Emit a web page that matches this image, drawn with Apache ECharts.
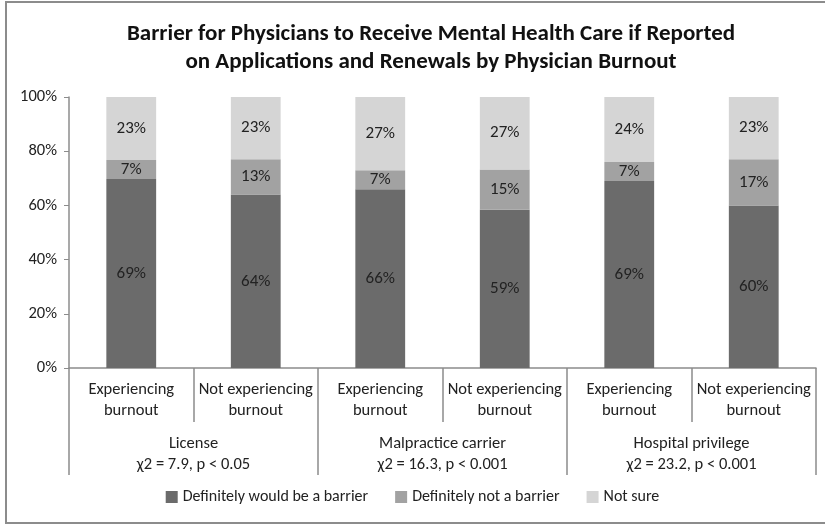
<!DOCTYPE html>
<html>
<head>
<meta charset="utf-8">
<script src="https://cdn.jsdelivr.net/npm/echarts@6/dist/echarts.min.js"></script>
<style>
  html, body { margin: 0; padding: 0; background: #fff; }
  #wrap { position: relative; width: 825px; height: 524px; overflow: hidden; }
  #chart { width: 825px; height: 524px; }
  #frame { position: absolute; left: 5px; top: 1px; width: 840px; height: 519px; border: 2px solid #8c8c8c; pointer-events: none; }
</style>
</head>
<body>
<div id="wrap"><div id="chart"></div><div id="frame"></div></div>
<script>
const categories = [
  'Experiencing\nburnout', 'Not experiencing\nburnout',
  'Experiencing\nburnout', 'Not experiencing\nburnout',
  'Experiencing\nburnout', 'Not experiencing\nburnout'
];
const groups = [
  'License\nχ2 = 7.9, p < 0.05',
  'Malpractice carrier\nχ2 = 16.3, p < 0.001',
  'Hospital privilege\nχ2 = 23.2, p < 0.001'
];
const seriesNames = ['Definitely would be a barrier', 'Definitely not a barrier', 'Not sure'];
const wouldBeBarrier = [69, 64, 66, 59, 69, 60];
const notBarrier = [7, 13, 7, 15, 7, 17];
const notSure = [23, 23, 27, 27, 24, 23];
const yTicks = [0, 20, 40, 60, 80, 100];

const raw = [wouldBeBarrier, notBarrier, notSure];
const totals = categories.map((_, i) => raw.reduce((s, arr) => s + arr[i], 0));
const colors = ['#6b6b6b', '#a2a2a2', '#d5d5d5'];
const FONT = 'Carlito, Lato, "Open Sans", sans-serif';

const series = raw.map((arr, k) => ({
  name: seriesNames[k],
  type: 'bar',
  stack: 'total',
  barWidth: '40%',
  xAxisIndex: 0,
  itemStyle: { color: colors[k] },
  label: {
    show: true,
    position: 'inside',
    color: '#222',
    fontFamily: FONT,
    fontSize: 17,
    formatter: p => arr[p.dataIndex] + '%'
  },
  data: arr.map((v, i) => v / totals[i] * 100)
}));

const chart = echarts.init(document.getElementById('chart'), null, { renderer: 'canvas' });
chart.setOption({
  animation: false,
  textStyle: { fontFamily: FONT },
  title: {
    text: 'Barrier for Physicians to Receive Mental Health Care if Reported\non Applications and Renewals by Physician Burnout',
    left: 426,
    textAlign: 'center',
    top: 15,
    textStyle: { fontFamily: FONT, fontWeight: 'bold', fontSize: 23, lineHeight: 28, color: '#111' }
  },
  legend: {
    bottom: 14,
    left: 'center',
    itemWidth: 12,
    itemHeight: 12,
    itemGap: 27,
    icon: 'rect',
    textStyle: { fontFamily: FONT, fontSize: 16, color: '#222' },
    data: seriesNames
  },
  grid: { left: 69, right: 9, top: 97, bottom: 156 },
  xAxis: [
    {
      type: 'category',
      data: categories,
      position: 'bottom',
      axisLine: { show: true, lineStyle: { color: '#8c8c8c', width: 1.5 } },
      axisTick: { show: true, length: 54, lineStyle: { color: '#8c8c8c', width: 1.5 } },
      axisLabel: { margin: 11, fontSize: 16.5, lineHeight: 21, color: '#222', fontFamily: FONT, interval: 0 }
    },
    {
      type: 'category',
      data: groups,
      position: 'bottom',
      axisLine: { show: false },
      axisTick: { show: true, length: 107, lineStyle: { color: '#8c8c8c', width: 1.5 } },
      axisLabel: { margin: 65, fontSize: 16.5, lineHeight: 21, color: '#222', fontFamily: FONT, interval: 0 }
    }
  ],
  yAxis: {
    type: 'value',
    min: 0,
    max: 100,
    interval: 20,
    axisLine: { show: true, lineStyle: { color: '#8c8c8c', width: 1.5 } },
    axisTick: { show: true, length: 5, lineStyle: { color: '#8c8c8c' } },
    splitLine: { show: false },
    axisLabel: {
      fontSize: 16.5, color: '#222', fontFamily: FONT, margin: 12,
      formatter: v => (yTicks.indexOf(v) >= 0 ? v + '%' : '')
    }
  },
  series: series
});
</script>
</body>
</html>
